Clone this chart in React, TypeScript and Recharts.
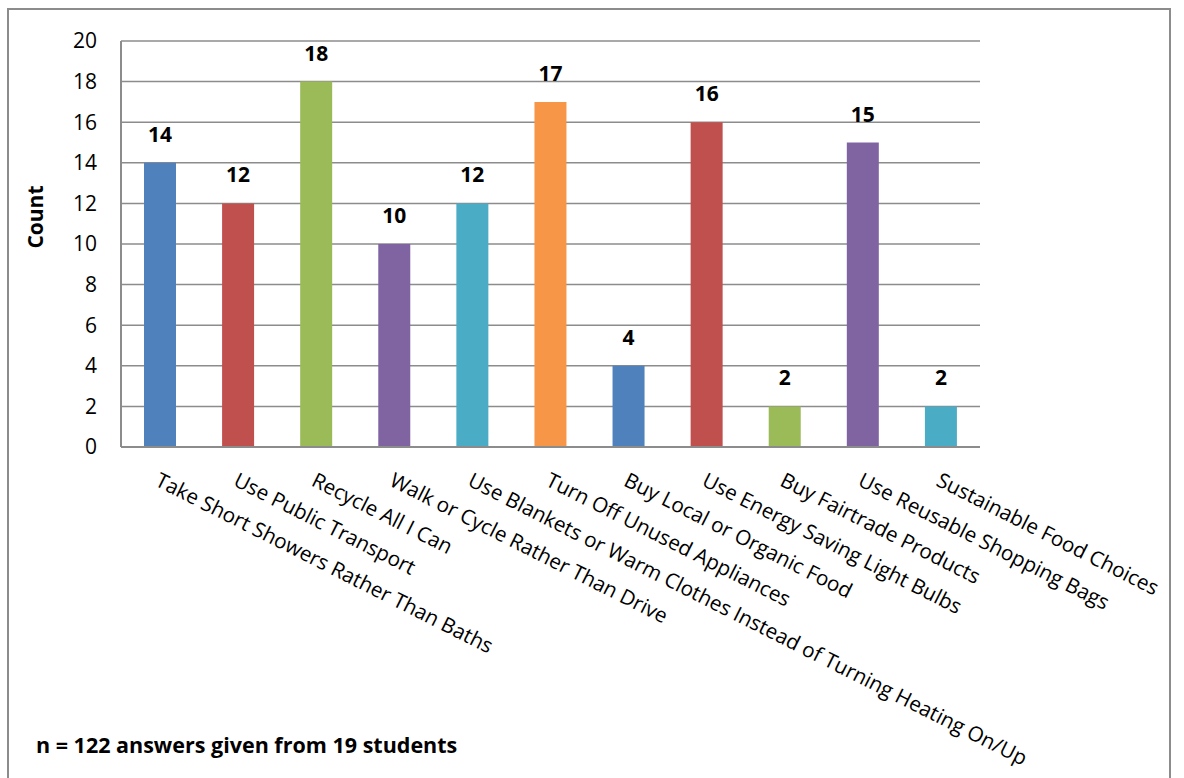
import { Bar, BarChart, CartesianGrid, Cell, LabelList, XAxis, YAxis } from "recharts";

const categories = [
  "Take Short Showers Rather Than Baths",
  "Use Public Transport",
  "Recycle All I Can",
  "Walk or Cycle Rather Than Drive",
  "Use Blankets or Warm Clothes Instead of Turning Heating On/Up",
  "Turn Off Unused Appliances",
  "Buy Local or Organic Food",
  "Use Energy Saving Light Bulbs",
  "Buy Fairtrade Products",
  "Use Reusable Shopping Bags",
  "Sustainable Food Choices",
];
const counts = [14, 12, 18, 10, 12, 17, 4, 16, 2, 15, 2];
const yTicks = [0, 2, 4, 6, 8, 10, 12, 14, 16, 18, 20];

const palette = ["#4F81BD", "#C0504D", "#9BBB59", "#8064A2", "#4BACC6", "#F79646"];
const font = "'Open Sans', sans-serif";
const gridGray = "#8c8c8c";

const data = categories.map((name, i) => ({ name, count: counts[i] }));

function AngledTick({ x, y, payload }: any) {
  return (
    <g transform={`translate(${x - 6},${y + 30})`}>
      <text x={0} y={0} transform="rotate(26.8)" textAnchor="start" fontSize={20.7} fontFamily={font} fill="#000">
        {payload.value}
      </text>
    </g>
  );
}

function CountLabel({ viewBox }: any) {
  const cx = 35;
  const cy = viewBox.y + viewBox.height / 2 - 27;
  return (
    <text x={cx} y={cy} transform={`rotate(-90, ${cx}, ${cy})`} textAnchor="middle" dominantBaseline="central" fontSize={21} fontWeight="bold" fontFamily={font} fill="#000">
      Count
    </text>
  );
}

export default function App() {
  return (
    <div style={{ position: "absolute", left: 0, top: 0, width: 1184, height: 778, background: "#fff", overflow: "hidden" }}>
      <div style={{ position: "absolute", left: 7, top: 8, width: 1164, height: 800, border: "2px solid #8c8c8c", boxSizing: "border-box" }} />
      <BarChart width={1184} height={778} data={data} margin={{ top: 41, right: 204, left: 0, bottom: 301 }} barSize={32}>
        <CartesianGrid stroke={gridGray} strokeWidth={1.5} vertical={false} />
        <XAxis dataKey="name" height={30} interval={0} axisLine={{ stroke: gridGray, strokeWidth: 2 }} tickLine={false} tick={<AngledTick />} />
        <YAxis
          width={121}
          domain={[0, 20]}
          ticks={yTicks}
          interval={0}
          axisLine={{ stroke: gridGray, strokeWidth: 2 }}
          tickLine={false}
          tickMargin={18}
          tick={{ fontSize: 21, fill: "#000", fontFamily: font }}
          label={<CountLabel />}
        />
        <Bar dataKey="count" isAnimationActive={false}>
          {data.map((d, i) => (
            <Cell key={d.name} fill={palette[i % palette.length]} />
          ))}
          <LabelList dataKey="count" position="top" offset={21} fontSize={21} fontWeight="bold" fontFamily={font} fill="#000" />
        </Bar>
      </BarChart>
      <div style={{ position: "absolute", left: 36, top: 730, fontFamily: font, fontWeight: "bold", fontSize: 21.5, color: "#000" }}>
        n = 122 answers given from 19 students
      </div>
    </div>
  );
}
